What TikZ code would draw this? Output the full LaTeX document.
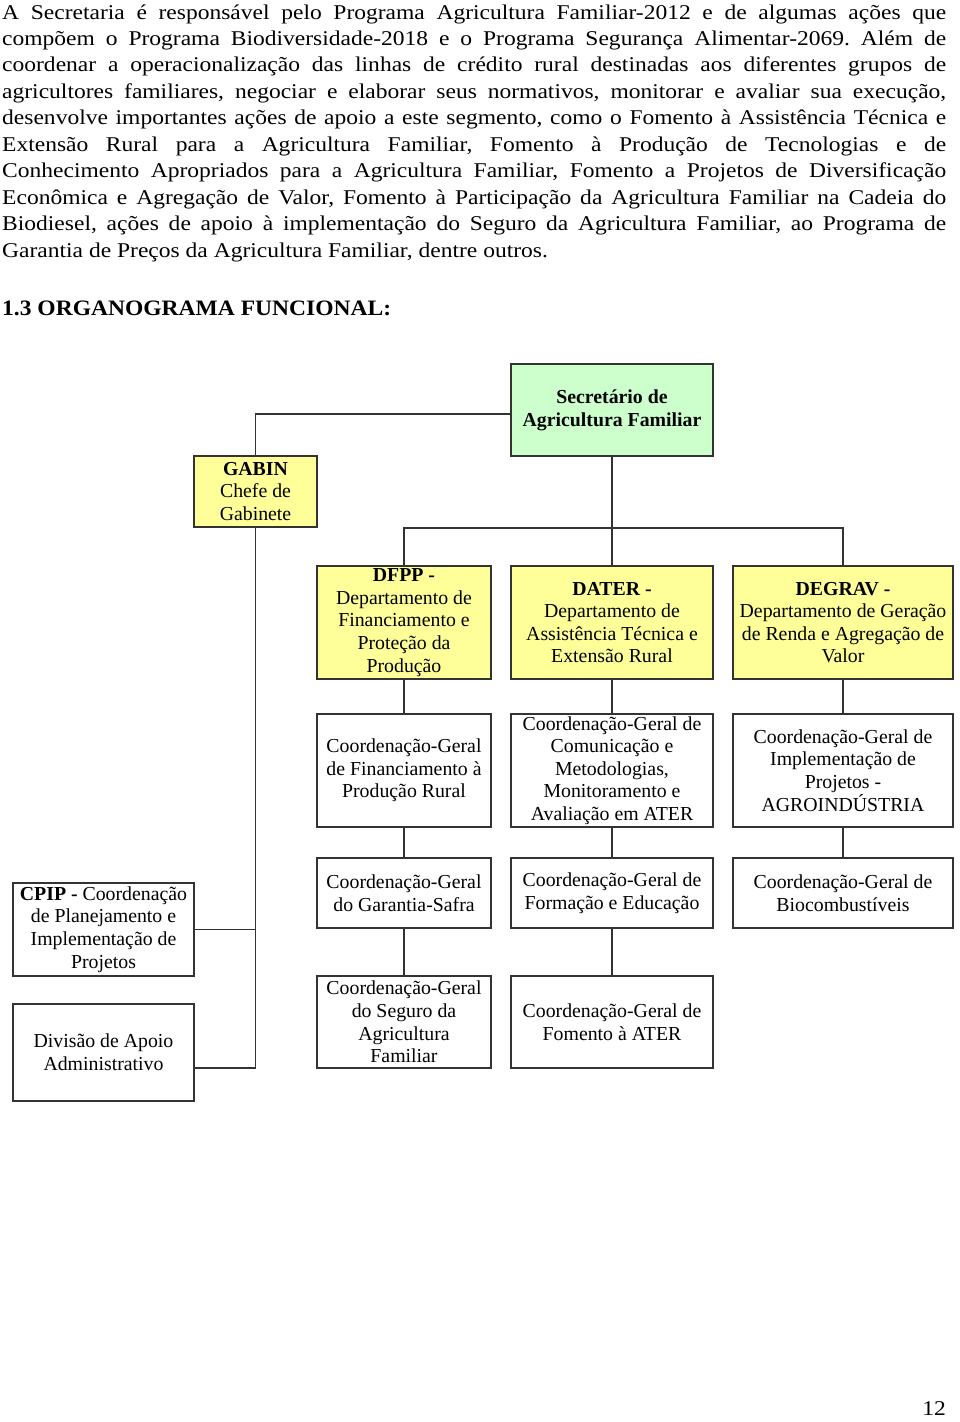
\documentclass[tikz,border=0pt]{standalone}
\usepackage{fontspec}
\setmainfont{Liberation Serif}
\newfontfamily\parafam{Liberation Serif}[FakeStretch=1.12]
\newfontfamily\headfam{Liberation Serif}[FakeStretch=1.07]
\definecolor{linec}{HTML}{333333}
\definecolor{greenfill}{HTML}{CCFFCC}
\definecolor{yellowfill}{HTML}{FFFF99}
\newcommand{\parafont}{\parafam\fontsize{21}{26.4}\selectfont\frenchspacing}
\newcommand{\boxfont}{\fontsize{19.8}{22.6}\selectfont}
\newcommand{\jline}[2]{\node[anchor=base west, inner sep=0pt, font=\parafont] (#1) at (2,#2)}
\tikzset{
  box/.style={draw=linec, line width=1.1pt, align=center, inner sep=0pt, font=\boxfont},
  thickbox/.style={box, line width=2.4pt},
  yellowbox/.style={box, fill=yellowfill},
  greenbox/.style={box, fill=greenfill},
  conn/.style={draw=linec, line width=1.1pt},
  w1/.style={minimum width=174pt},
  w2/.style={minimum width=202pt},
  w3/.style={minimum width=220pt},
}
\begin{document}
\begin{tikzpicture}[x=1pt,y=-1pt]
\useasboundingbox (0,0) rectangle (960,1422);
% paragraph
\jline{l1}{19}{\hbox to 944pt{A Secretaria é responsável pelo Programa Agricultura Familiar-2012 e de algumas ações que}};
\jline{l2}{45.4}{\hbox to 944pt{compõem o Programa Biodiversidade-2018 e o Programa Segurança Alimentar-2069. Além de}};
\jline{l3}{71.9}{\hbox to 944pt{coordenar a operacionalização das linhas de crédito rural destinadas aos diferentes grupos de}};
\jline{l4}{98.3}{\hbox to 944pt{agricultores familiares, negociar e elaborar seus normativos, monitorar e avaliar sua execução,}};
\jline{l5}{124.8}{\hbox to 944pt{desenvolve importantes ações de apoio a este segmento, como o Fomento à Assistência Técnica e}};
\jline{l6}{151.2}{\hbox to 944pt{Extensão Rural para a Agricultura Familiar, Fomento à Produção de Tecnologias e de}};
\jline{l7}{177.6}{\hbox to 944pt{Conhecimento Apropriados para a Agricultura Familiar, Fomento a Projetos de Diversificação}};
\jline{l8}{204.1}{\hbox to 944pt{Econômica e Agregação de Valor, Fomento à Participação da Agricultura Familiar na Cadeia do}};
\jline{l9}{230.5}{\hbox to 944pt{Biodiesel, ações de apoio à implementação do Seguro da Agricultura Familiar, ao Programa de}};
\jline{l10}{257}{Garantia de Preços da Agricultura Familiar, dentre outros.};
\node[anchor=base west, inner sep=0pt, font=\headfam\fontsize{22}{26}\selectfont\bfseries] (head) at (2,315) {1.3 ORGANOGRAMA FUNCIONAL:};
% boxes
\node[greenbox, w2, minimum height=92pt] (sec) at (612,410) {\bfseries Secretário de\\\bfseries Agricultura Familiar};
\node[yellowbox, minimum width=123pt, minimum height=71pt] (gabin) at (255.5,491.5) {\bfseries GABIN\\Chefe de\\Gabinete};
\node[yellowbox, w1, minimum height=113pt] (dfpp) at (404,622.5) {\bfseries DFPP -\\Departamento de\\Financiamento e\\Proteção da\\Produção};
\node[yellowbox, w2, minimum height=113pt] (dater) at (612,622.5) {\bfseries DATER -\\Departamento de\\Assistência Técnica e\\Extensão Rural};
\node[yellowbox, w3, minimum height=113pt] (degrav) at (843,622.5) {\bfseries DEGRAV -\\Departamento de Geração\\de Renda e Agregação de\\Valor};
\node[box, w1, minimum height=113pt] (cgfin) at (404,770.5) {Coordenação-Geral\\de Financiamento à\\Produção Rural};
\node[box, w2, minimum height=113pt] (cgcom) at (612,770.5) {Coordenação-Geral de\\Comunicação e\\Metodologias,\\Monitoramento e\\Avaliação em ATER};
\node[box, w3, minimum height=113pt] (cgimp) at (843,770.5) {Coordenação-Geral de\\Implementação de\\Projetos -\\AGROINDÚSTRIA};
\node[box, w1, minimum height=70pt] (cggar) at (404,893) {Coordenação-Geral\\do Garantia-Safra};
\node[box, w2, minimum height=70pt] (cgfor) at (612,893) {Coordenação-Geral de\\Formação e Educação};
\node[box, w3, minimum height=70pt] (cgbio) at (843,893) {Coordenação-Geral de\\Biocombustíveis};
\node[box, w1, minimum height=92pt] (cgseg) at (404,1022) {Coordenação-Geral\\do Seguro da\\Agricultura\\Familiar};
\node[box, w2, minimum height=92pt] (cgate) at (612,1022) {Coordenação-Geral de\\Fomento à ATER};
\node[thickbox, minimum width=181pt, minimum height=93pt] (cpip) at (103.5,929.5) {{\bfseries CPIP -} Coordenação\\de Planejamento e\\Implementação de\\Projetos};
\node[thickbox, minimum width=181pt, minimum height=97pt] (div) at (103.5,1052.5) {Divisão de Apoio\\Administrativo};
\node[anchor=base east, inner sep=0pt, font=\parafont] (pg) at (946,1415) {12};
% connectors
\coordinate (bus) at (612,528);
\coordinate (gend) at (255.5,1068);
\coordinate (divc) at (103.5,1068);
\draw[conn] ([yshift=-4pt]sec.west) -| (gabin.north);
\draw[conn] (gabin.south) -- (gend);
\draw[conn] (cpip.east) -- (cpip.east -| gend);
\draw[conn] (div.east |- divc) -- (gend);
\draw[conn] (sec.south) -- (dater.north);
\draw[conn] (dfpp.north) |- (bus) -| (degrav.north);
\draw[conn] (dfpp.south) -- (cgfin.north);
\draw[conn] (cgfin.south) -- (cggar.north);
\draw[conn] (cggar.south) -- (cgseg.north);
\draw[conn] (dater.south) -- (cgcom.north);
\draw[conn] (cgcom.south) -- (cgfor.north);
\draw[conn] (cgfor.south) -- (cgate.north);
\draw[conn] (degrav.south) -- (cgimp.north);
\draw[conn] (cgimp.south) -- (cgbio.north);
\end{tikzpicture}
\end{document}
